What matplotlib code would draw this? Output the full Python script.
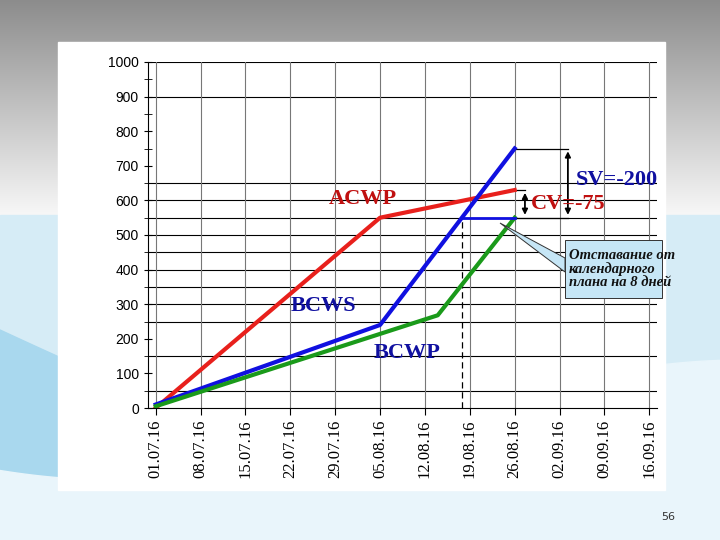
import numpy as np
import matplotlib
matplotlib.use("Agg")
import matplotlib.pyplot as plt
from matplotlib.patches import Polygon, Rectangle

# ---------------------------------------------------------------------------
# Data (days counted from 01.07.16)
# ---------------------------------------------------------------------------
date_labels = ["01.07.16", "08.07.16", "15.07.16", "22.07.16", "29.07.16", "05.08.16",
               "12.08.16", "19.08.16", "26.08.16", "02.09.16", "09.09.16", "16.09.16"]
date_days = [0, 7, 14, 21, 28, 35, 42, 49, 56, 63, 70, 77]

acwp_days = [0, 35, 56]
acwp_vals = [0, 550, 630]
bcws_days = [0, 35, 56]
bcws_vals = [10, 240, 750]
bcwp_days = [0, 44, 56]
bcwp_vals = [5, 268, 550]

status_day = 56
lag_day = 47.8          # day where BCWS reaches the earned value
ev_now = 550
pv_now = 750
ac_now = 630

grid_levels = [50, 150, 250, 300, 350, 400, 450, 500, 550, 600, 650, 900, 1000]

W, H = 720, 540
fig = plt.figure(figsize=(7.2, 5.4), dpi=100)

# slide background
bg = fig.add_axes([0, 0, 1, 1], zorder=-10)
bg.set_axis_off()
bg.set_xlim(0, W)
bg.set_ylim(H, 0)
grad = np.linspace(0.55, 0.97, 256)[:, None] * np.ones((1, 2))
bg.imshow(np.dstack([grad] * 3), extent=[0, W, 215, 0], aspect="auto")
bg.add_patch(Rectangle((0, 215), W, H - 215, color="#d6ecf6"))
t = np.linspace(0, W, 200)
bg.fill_between(t, 330 + 120 * np.sin(t / 260), H, color="#a9d8ee")
bg.fill_between(t, 420 + 60 * np.sin(t / 200 + 1), H, color="#e9f5fb")
bg.add_patch(Rectangle((58, 42), 607, 448, color="white"))
bg.text(668, 517, "56", fontsize=8, ha="center", va="center", color="#333333")

ax = fig.add_axes([148 / W, 1 - 408 / H, (657 - 148) / W, (408 - 62) / H])
ax.set_xlim(-1.2, 78.2)
ax.set_ylim(0, 1000)
for g in grid_levels:
    ax.axhline(g, color="black", lw=0.8, zorder=1)
for d in date_days:
    ax.axvline(d, color="#777777", lw=0.8, zorder=1)

ax.plot(acwp_days, acwp_vals, color="#e8201c", lw=3, zorder=4)
ax.plot(bcws_days, bcws_vals, color="#1010e0", lw=3, zorder=4)
ax.plot(bcwp_days, bcwp_vals, color="#1a9a1a", lw=3, zorder=4)

# schedule lag marker
ax.plot([lag_day, status_day], [ev_now, ev_now], color="#1010e0", lw=2, zorder=4)
ax.plot([lag_day, lag_day], [0, ev_now], color="black", lw=0.9, ls=(0, (5, 3)), zorder=3)

# SV / CV brackets
sv_x, cv_x = 64.3, 57.6
ax.plot([status_day, sv_x], [pv_now, pv_now], color="black", lw=0.9, zorder=3)
ax.plot([status_day, sv_x], [ev_now, ev_now], color="black", lw=0.9, zorder=3)
ax.plot([status_day, cv_x], [ac_now, ac_now], color="black", lw=0.9, zorder=3)
ax.annotate("", xy=(sv_x, pv_now), xytext=(sv_x, ev_now),
            arrowprops=dict(arrowstyle="<|-|>", color="black", lw=1.3, mutation_scale=8))
ax.annotate("", xy=(cv_x, ac_now), xytext=(cv_x, ev_now),
            arrowprops=dict(arrowstyle="<|-|>", color="black", lw=1.3, mutation_scale=8))

ax.set_yticks(range(0, 1001, 100))
ax.set_yticks(range(50, 1000, 100), minor=True)
ax.tick_params(axis="y", which="both", direction="inout", length=6, labelsize=10)
ax.set_xticks(date_days)
ax.set_xticklabels(date_labels, rotation=90, fontsize=12, family="Liberation Serif")
ax.tick_params(axis="x", length=5, direction="out")
for s in ["top", "right"]:
    ax.spines[s].set_visible(False)
for lbl in ax.get_yticklabels():
    lbl.set_family("Liberation Sans")

serif = dict(family="Liberation Serif", fontweight="bold", fontsize=16)
ax.text(27, 590, "ACWP", color="#c01010", **serif)
ax.text(21, 280, "BCWS", color="#1010a0", **serif)
ax.text(34, 145, "BCWP", color="#1010a0", **serif)
ax.text(58.5, 575, "CV=-75", color="#c01010", **serif)
ax.text(65.5, 645, "SV=-200", color="#1010a0", **serif)

# callout on a transparent overlay
ov = fig.add_axes([0, 0, 1, 1], zorder=10)
ov.set_axis_off()
ov.set_xlim(0, W)
ov.set_ylim(H, 0)
ov.patch.set_alpha(0)
ov.add_patch(Polygon([[500, 223], [565, 258], [565, 272]], closed=True,
                     facecolor="#c6e6f6", edgecolor="#333333", lw=0.7))
ov.add_patch(Rectangle((565, 240), 97, 58, facecolor="#c6e6f6",
                       edgecolor="#333333", lw=0.7))
ov.text(569, 269, "Отставание от\nкалендарного\nплана на 8 дней", fontsize=10.5,
        family="Liberation Serif", style="italic", fontweight="bold",
        va="center", ha="left", linespacing=1.0, color="#111111")

fig.savefig("out.png", dpi=100)
